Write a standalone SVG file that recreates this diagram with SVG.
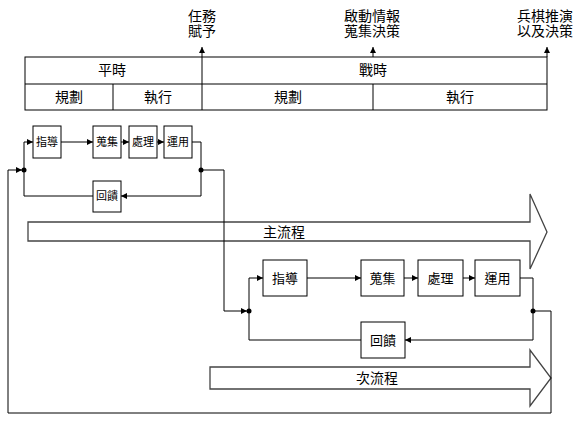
<svg xmlns="http://www.w3.org/2000/svg" width="579" height="423" viewBox="0 0 579 423">
<style>
text{font-family:"Liberation Sans","Noto Sans CJK TC",sans-serif;fill:#000;text-anchor:middle}
.t14{font-size:14px}
.t13{font-size:13px}
.t11{font-size:11px}
.box{fill:#fff;stroke:#000;stroke-width:1}
.ln{fill:none;stroke:#000;stroke-width:1}
.fl{fill:#fff;stroke:#444;stroke-width:1.3}
</style>
<defs>
<marker id="ah" viewBox="0 0 6 6" refX="6" refY="3" markerWidth="6" markerHeight="6" markerUnits="userSpaceOnUse" orient="auto">
<path d="M0,0 L6,3 L0,6 Z" fill="#000"/>
</marker>
</defs>
<rect width="579" height="423" fill="#fff"/>
<g id="timeline">
<rect x="25" y="57" width="522" height="53" class="ln"/>
<line x1="25" y1="84" x2="547" y2="84" class="ln"/>
<line x1="113" y1="84" x2="113" y2="110" class="ln"/>
<line x1="373" y1="84" x2="373" y2="110" class="ln"/>
<line x1="202" y1="110" x2="202" y2="47" class="ln" marker-end="url(#ah)"/>
<line x1="373" y1="57" x2="373" y2="47" class="ln" marker-end="url(#ah)"/>
<line x1="547" y1="57" x2="547" y2="47" class="ln" marker-end="url(#ah)"/>
<text x="112" y="75" class="t14">平時</text>
<text x="373" y="75" class="t14">戰時</text>
<text x="69" y="102" class="t14">規劃</text>
<text x="158" y="102" class="t14">執行</text>
<text x="288" y="102" class="t14">規劃</text>
<text x="460" y="102" class="t14">執行</text>
<text x="202" y="21" class="t14">任務</text>
<text x="202" y="36" class="t14">賦予</text>
<text x="372" y="21" class="t14">啟動情報</text>
<text x="372" y="36" class="t14">蒐集決策</text>
<text x="545" y="21" class="t14">兵棋推演</text>
<text x="545" y="36" class="t14">以及決策</text>
</g>
<g id="main-flow">
<polygon points="28,222 530,222 530,194 547,232 530,269 530,241 28,241" class="fl"/>
<text x="284" y="237" class="t14">主流程</text>
</g>
<g id="sub-flow">
<polygon points="210,367 530,367 530,350 551,378 530,406 530,389 210,389" class="fl"/>
<text x="377" y="383" class="t14">次流程</text>
</g>
<g id="s-guide"><rect x="33" y="126" width="28" height="32" class="box"/><text x="47" y="146" class="t11">指導</text></g>
<g id="s-collect"><rect x="93" y="126" width="28" height="32" class="box"/><text x="107" y="146" class="t11">蒐集</text></g>
<g id="s-process"><rect x="129" y="126" width="28" height="32" class="box"/><text x="143" y="146" class="t11">處理</text></g>
<g id="s-use"><rect x="164" y="126" width="28" height="32" class="box"/><text x="178" y="146" class="t11">運用</text></g>
<g id="s-feedback"><rect x="93" y="181" width="28" height="31" class="box"/><text x="107" y="200" class="t11">回饋</text></g>
<g id="l-guide"><rect x="263" y="260" width="44" height="36" class="box"/><text x="285" y="283" class="t13">指導</text></g>
<g id="l-collect"><rect x="361" y="260" width="43" height="36" class="box"/><text x="382.5" y="283" class="t13">蒐集</text></g>
<g id="l-process"><rect x="418" y="260" width="45" height="36" class="box"/><text x="440.5" y="283" class="t13">處理</text></g>
<g id="l-use"><rect x="475" y="260" width="45" height="36" class="box"/><text x="497.5" y="283" class="t13">運用</text></g>
<g id="l-feedback"><rect x="361" y="322" width="44" height="36" class="box"/><text x="383" y="345" class="t13">回饋</text></g>
<g id="connectors">
<line x1="61" y1="142" x2="93" y2="142" class="ln" marker-end="url(#ah)"/>
<line x1="121" y1="142" x2="129" y2="142" class="ln" marker-end="url(#ah)"/>
<line x1="157" y1="142" x2="164" y2="142" class="ln" marker-end="url(#ah)"/>
<path d="M192,142 H201 V196 H121" class="ln" marker-end="url(#ah)"/>
<path d="M93,196 H24 V142 H33" class="ln" marker-end="url(#ah)"/>
<path d="M533,311 H551 V413 H8 V170 H22" class="ln" marker-end="url(#ah)"/>
<path d="M201,170 H224 V311 H247" class="ln" marker-end="url(#ah)"/>
<line x1="307" y1="278" x2="361" y2="278" class="ln" marker-end="url(#ah)"/>
<line x1="404" y1="278" x2="418" y2="278" class="ln" marker-end="url(#ah)"/>
<line x1="463" y1="278" x2="475" y2="278" class="ln" marker-end="url(#ah)"/>
<path d="M520,278 H533 V340 H405" class="ln" marker-end="url(#ah)"/>
<path d="M361,340 H249 V278 H263" class="ln" marker-end="url(#ah)"/>
<circle cx="24" cy="170" r="2.5" fill="#000"/>
<circle cx="201" cy="170" r="2.5" fill="#000"/>
<circle cx="249" cy="311" r="2.5" fill="#000"/>
<circle cx="533" cy="311" r="2.5" fill="#000"/>
</g>
</svg>
